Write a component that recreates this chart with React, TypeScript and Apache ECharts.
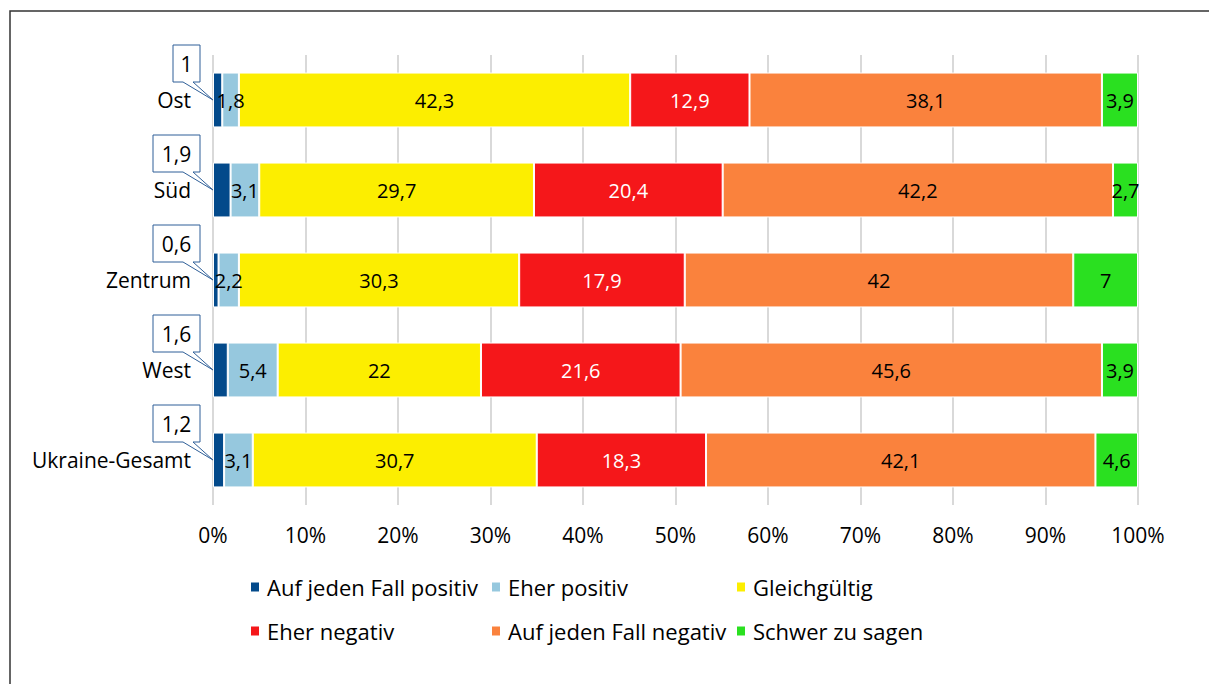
import React, { useEffect, useRef } from "react";
import * as echarts from "echarts";

const categories = ["Ost", "Süd", "Zentrum", "West", "Ukraine-Gesamt"];
const seriesNames = [
  "Auf jeden Fall positiv",
  "Eher positiv",
  "Gleichgültig",
  "Eher negativ",
  "Auf jeden Fall negativ",
  "Schwer zu sagen",
];
const aufJedenFallPositiv = [1, 1.9, 0.6, 1.6, 1.2];
const eherPositiv = [1.8, 3.1, 2.2, 5.4, 3.1];
const gleichgueltig = [42.3, 29.7, 30.3, 22, 30.7];
const eherNegativ = [12.9, 20.4, 17.9, 21.6, 18.3];
const aufJedenFallNegativ = [38.1, 42.2, 42, 45.6, 42.1];
const schwerZuSagen = [3.9, 2.7, 7, 3.9, 4.6];
const xTicks = [0, 10, 20, 30, 40, 50, 60, 70, 80, 90, 100];

const seriesValues = [
  aufJedenFallPositiv,
  eherPositiv,
  gleichgueltig,
  eherNegativ,
  aufJedenFallNegativ,
  schwerZuSagen,
];
const colors = ["#034a8b", "#96c8de", "#fcee00", "#f5171a", "#fa823d", "#2ae020"];
const labelColors = ["#000", "#000", "#000", "#fff", "#000", "#000"];

const FONT = "'Open Sans', sans-serif";
const fmt = (v: number) => String(v).replace(".", ",");

export default function App() {
  const ref = useRef<HTMLDivElement>(null);
  useEffect(() => {
    if (!ref.current) return;
    const chart = echarts.init(ref.current, undefined, { renderer: "svg" });
    const totals = categories.map((_, i) =>
      seriesValues.reduce((s, arr) => s + arr[i], 0)
    );

    const barSeries = seriesNames.map((name, si) => ({
      name,
      type: "bar",
      stack: "total",
      barCategoryGap: "39%",
      itemStyle: { color: colors[si], borderColor: "#fff", borderWidth: 1 },
      label: {
        show: si !== 0,
        position: "inside",
        color: labelColors[si],
        fontSize: 20,
        fontFamily: FONT,
        formatter: (p: any) => fmt(seriesValues[si][p.dataIndex]),
      },
      emphasis: { disabled: true },
      data: seriesValues[si].map((v, i) => (v / totals[i]) * 100),
    }));

    const calloutSeries = {
      type: "custom",
      name: "callout",
      clip: false,
      z: 10,
      encode: { x: 0, y: 1 },
      data: aufJedenFallPositiv.map((v, i) => [0, i, v]),
      renderItem: (params: any, api: any) => {
        const tip = api.coord([0, api.value(1)]);
        const txt = fmt(api.value(2));
        const w = txt.length * 10 + 17;
        const h = 37;
        const R = tip[0] - 13;
        const B = tip[1] - 18;
        const L = R - w;
        const T = B - h;
        return {
          type: "group",
          children: [
            {
              type: "polygon",
              shape: {
                points: [
                  [L, T],
                  [R, T],
                  [R, B],
                  [R - 7, B],
                  [tip[0], tip[1]],
                  [R - 17, B],
                  [L, B],
                ],
              },
              style: { fill: "#fff", stroke: "#2f5f98", lineWidth: 1 },
            },
            {
              type: "text",
              x: (L + R) / 2,
              y: (T + B) / 2,
              style: {
                text: txt,
                fill: "#000",
                fontSize: 21,
                fontFamily: FONT,
                align: "center",
                verticalAlign: "middle",
              },
            },
          ],
        };
      },
    };

    const legendPos = [
      [249, 576],
      [490, 576],
      [735, 576],
      [249, 620],
      [490, 620],
      [735, 620],
    ];
    const legends = seriesNames.map((name, i) => ({
      data: [name],
      left: legendPos[i][0],
      top: legendPos[i][1],
      padding: 0,
      icon: "rect",
      itemWidth: 10,
      itemHeight: 11,
      selectedMode: false,
      textStyle: { fontSize: 22, color: "#000", fontFamily: FONT, padding: [0, 0, 0, 2] },
    }));

    chart.setOption({
      animation: false,
      backgroundColor: "#fff",
      grid: { left: 213, top: 55, width: 925, height: 450, containLabel: false },
      legend: legends,
      xAxis: {
        type: "value",
        min: xTicks[0],
        max: xTicks[xTicks.length - 1],
        interval: 10,
        axisLine: { show: false },
        axisTick: { show: false },
        splitLine: { show: true, lineStyle: { color: "#d9d9d9", width: 2 } },
        axisLabel: {
          formatter: "{value}%",
          fontSize: 21,
          color: "#000",
          fontFamily: FONT,
          margin: 19,
        },
      },
      yAxis: {
        type: "category",
        data: categories,
        inverse: true,
        axisLine: { show: false },
        axisTick: { show: false },
        axisLabel: { fontSize: 21, color: "#000", fontFamily: FONT, margin: 22 },
      },
      graphic: [
        {
          type: "rect",
          shape: { x: 10, y: 11, width: 1400, height: 1000 },
          style: { fill: "none", stroke: "#333", lineWidth: 1.5 },
          z: -10,
          silent: true,
        },
      ],
      series: [...barSeries, calloutSeries],
    });
    return () => chart.dispose();
  }, []);
  return (
    <div
      ref={ref}
      style={{ position: "absolute", left: 0, top: 0, width: 1209, height: 684 }}
    />
  );
}
